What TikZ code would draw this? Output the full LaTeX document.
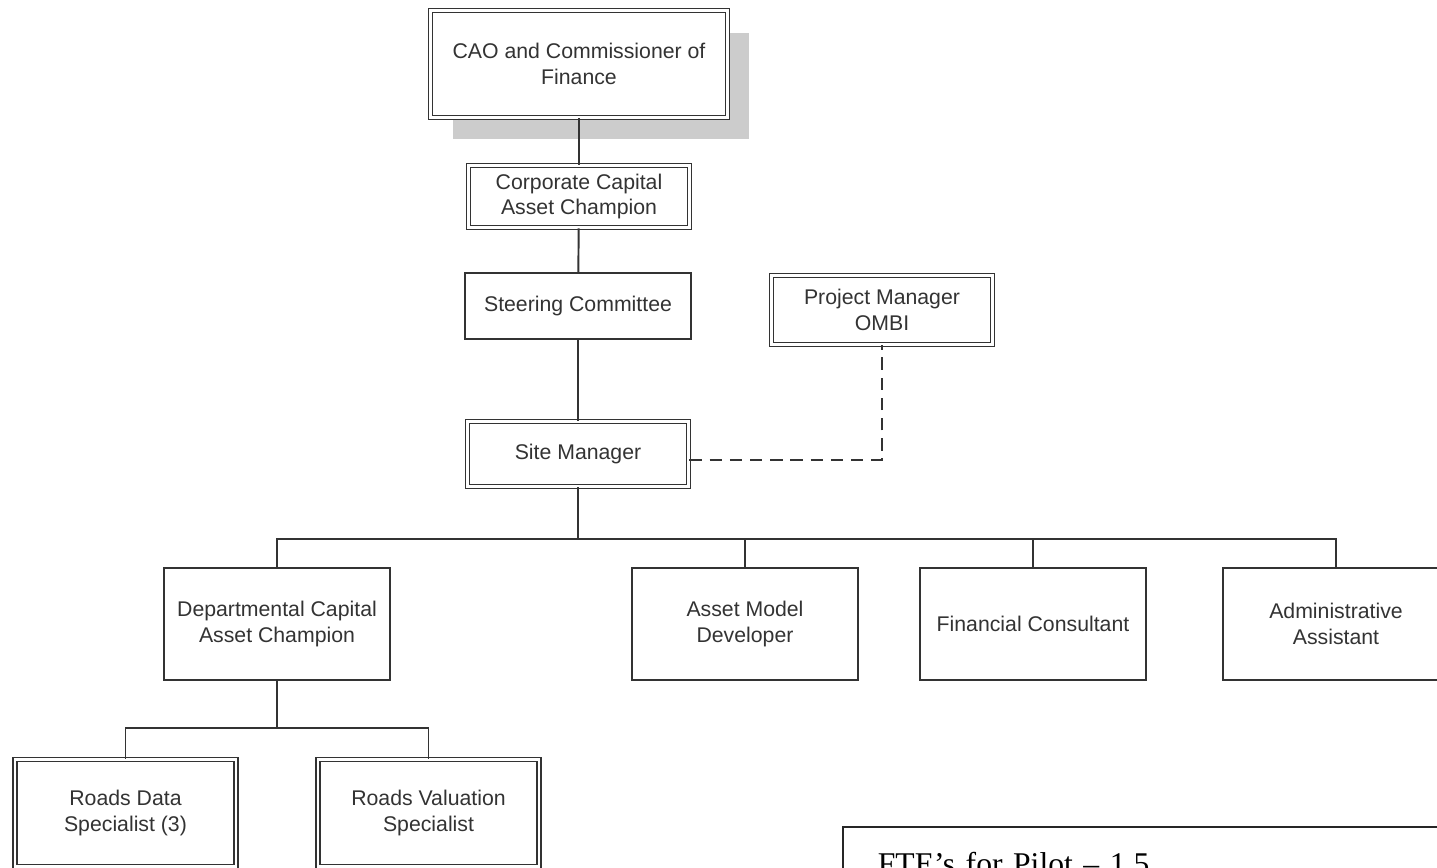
\documentclass[tikz,border=0pt]{standalone}
\usepackage{fontspec}
\setmainfont{Liberation Sans}
\newfontfamily\ftefont{Liberation Serif}
\usetikzlibrary{positioning, shadows}
\tikzset{
    orgbox/.style={rectangle, draw=black!80, line width=1.1pt, fill=white, align=center, text=black!80, minimum width=4.52cm, inner sep=2pt, font=\fontsize{12.1}{14.7}\selectfont},
    keybox/.style={orgbox, line width=1.05pt, double=white, double distance=1.2pt, minimum width=4.42cm},
    staffbox/.style={orgbox, minimum height=2.24cm},
    conn/.style={draw=black!80, line width=1.1pt},
    liaison/.style={conn, dash pattern=on 7pt off 4.5pt},
    notebox/.style={rectangle, draw=black!85, line width=1pt, fill=white, align=left, text width=14cm, inner xsep=0.7cm, inner ysep=0.5cm, font=\ftefont\fontsize{18}{21}\selectfont}
}
\begin{document}
\begin{tikzpicture}[x=0.02cm, y=-0.02cm]
        \useasboundingbox (0,0) rectangle (1437,867);
        \clip (0,0) rectangle (1437,867);

        % Top of the chain
        \node[keybox, minimum width=5.94cm, minimum height=2.14cm, drop shadow={shadow xshift=0.44cm, shadow yshift=-0.44cm, fill=black!20, opacity=1}] (CAO) at (579,64) {CAO and Commissioner of\\Finance};
        \node[keybox, minimum height=1.24cm] (CorpChamp) at (579,196.5) {Corporate Capital\\Asset Champion};
        \node[orgbox, minimum height=1.32cm] (Steering) at (578,306) {Steering Committee};
        \node[keybox, minimum height=1.38cm] (ProjMgr) at (882,310) {Project Manager\\OMBI};
        \node[keybox, minimum height=1.3cm] (SiteMgr) at (578,454) {Site Manager};

        % Staff row
        \node[staffbox] (DeptChamp) at (277,624) {Departmental Capital\\Asset Champion};
        \node[staffbox] (ModelDev) at (745,624) {Asset Model\\Developer};
        \node[staffbox] (FinCons) at (1033,624) {Financial Consultant};
        \node[staffbox] (AdminAsst) at (1336,624) {Administrative\\Assistant};

        % Roads team
        \node[keybox, minimum width=4.41cm, minimum height=2.14cm] (RoadsData) at (125.5,813) {Roads Data\\Specialist (3)};
        \node[keybox, minimum width=4.41cm, minimum height=2.14cm] (RoadsVal) at (428.5,813) {Roads Valuation\\Specialist};

        % Note
        \node[notebox, anchor=north west] (FTE) at (842,826) {FTE’s for Pilot – 1.5};

        % Bus points
        \coordinate (StaffBus) at (578,539);
        \coordinate (RoadsBus) at (277,728);

        % Connections
        \draw[conn] (CAO) -- (CorpChamp);
        \draw[conn] (CorpChamp) -- (Steering);
        \draw[conn] (Steering) -- (SiteMgr);
        \draw[liaison] ([yshift=-0.12cm]SiteMgr.east) -| (ProjMgr.south);

        \draw[conn] (SiteMgr) -- (StaffBus);
        \draw[conn] (StaffBus) -| (DeptChamp.north);
        \draw[conn] (StaffBus) -| (ModelDev.north);
        \draw[conn] (StaffBus) -| (FinCons.north);
        \draw[conn] (StaffBus) -| (AdminAsst.north);

        \draw[conn] (DeptChamp) -- (RoadsBus);
        \draw[conn] (RoadsBus) -| (RoadsData.north);
        \draw[conn] (RoadsBus) -| (RoadsVal.north);

    \end{tikzpicture}
\end{document}
